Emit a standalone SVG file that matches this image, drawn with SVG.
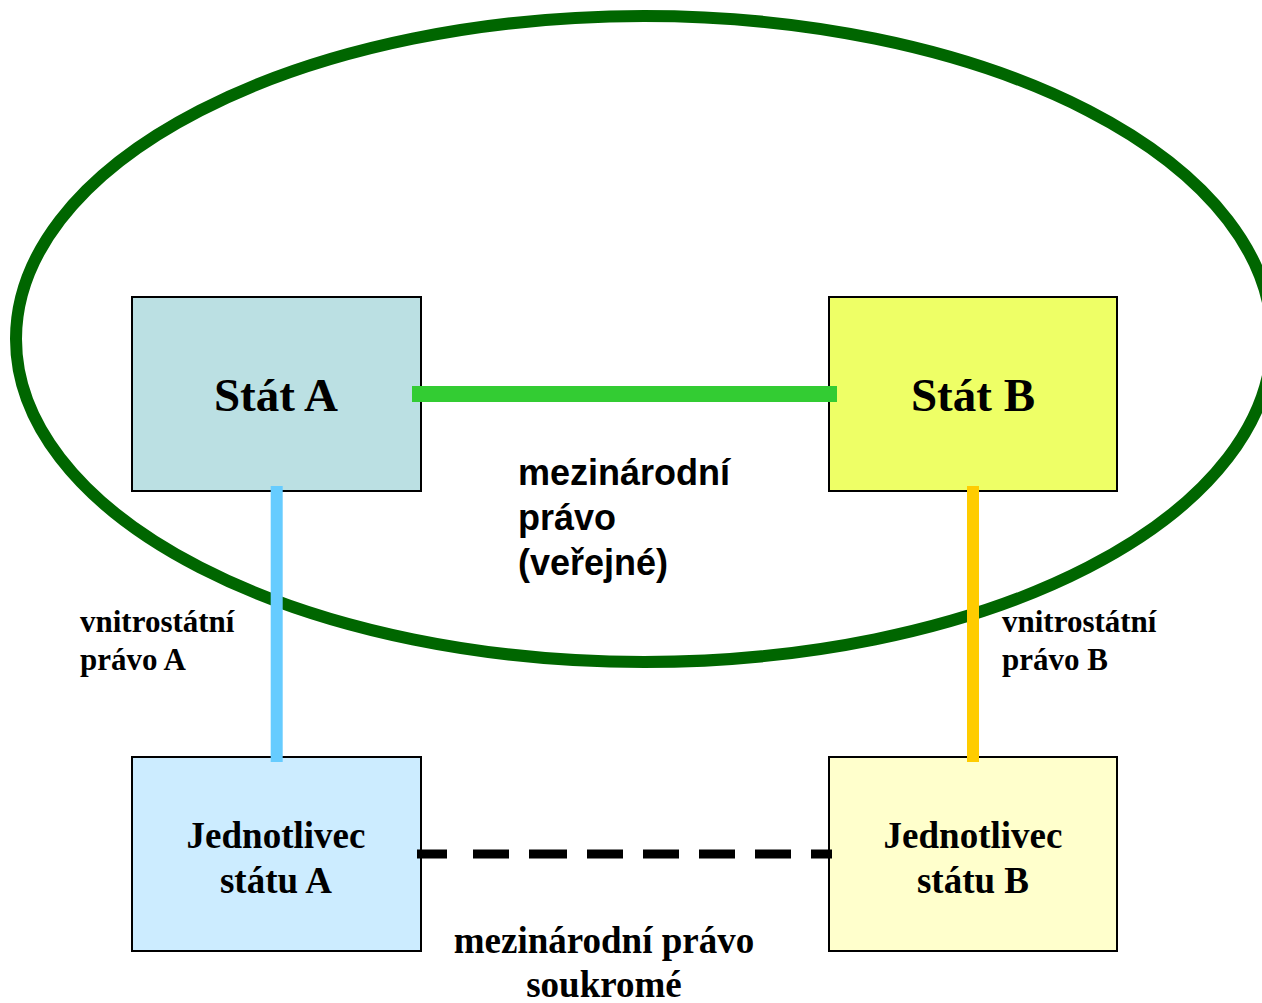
<svg xmlns="http://www.w3.org/2000/svg" width="1262" height="1003" viewBox="0 0 1262 1003">
<style>
.box{stroke:#000;stroke-width:2}
.serif{font-family:"Liberation Serif","Times New Roman",serif;font-weight:bold;fill:#000}
.sans{font-family:"Liberation Sans",Arial,sans-serif;font-weight:bold;fill:#000}
</style>
<rect width="1262" height="1003" fill="#fff"/>
<ellipse id="ellipse" cx="644" cy="339" rx="628" ry="323" fill="none" stroke="#006600" stroke-width="12"/>
<g id="stat-a">
<rect class="box" x="132" y="297" width="289" height="194" fill="#BBE0E3"/>
<text class="serif" x="276" y="411" font-size="47" text-anchor="middle">Stát A</text>
</g>
<g id="stat-b">
<rect class="box" x="829" y="297" width="288" height="194" fill="#EEFF66"/>
<text class="serif" x="973" y="411" font-size="47" text-anchor="middle">Stát B</text>
</g>
<g id="jednotlivec-a">
<rect class="box" x="132" y="757" width="289" height="194" fill="#CCECFF"/>
<text class="serif" x="276" y="848" font-size="37" text-anchor="middle">Jednotlivec</text>
<text class="serif" x="276" y="893" font-size="37" text-anchor="middle">státu A</text>
</g>
<g id="jednotlivec-b">
<rect class="box" x="829" y="757" width="288" height="194" fill="#FFFFCC"/>
<text class="serif" x="973" y="848" font-size="37" text-anchor="middle">Jednotlivec</text>
<text class="serif" x="973" y="893" font-size="37" text-anchor="middle">státu B</text>
</g>
<g id="connectors">
<line x1="412" y1="394" x2="837" y2="394" stroke="#33CC33" stroke-width="16"/>
<line x1="276.7" y1="486" x2="276.7" y2="762" stroke="#66CCFF" stroke-width="12"/>
<line x1="973" y1="486" x2="973" y2="762" stroke="#FFCC00" stroke-width="12"/>
<line x1="417" y1="854" x2="832" y2="854" stroke="#000" stroke-width="9" stroke-dasharray="30 26 36 20 38 20 36 20 36 20 36 20 36 20 36 20"/>
</g>
<g id="labels">
<text class="sans" font-size="36"><tspan x="518" y="485">mezinárodní</tspan><tspan x="518" y="530">právo</tspan><tspan x="518" y="575">(veřejné)</tspan></text>
<text class="serif" font-size="31"><tspan x="80" y="632">vnitrostátní</tspan><tspan x="80" y="670">právo A</tspan></text>
<text class="serif" font-size="31"><tspan x="1002" y="632">vnitrostátní</tspan><tspan x="1002" y="670">právo B</tspan></text>
<text class="serif" font-size="37" text-anchor="middle"><tspan x="604" y="953">mezinárodní právo</tspan><tspan x="604" y="997">soukromé</tspan></text>
</g>
</svg>
